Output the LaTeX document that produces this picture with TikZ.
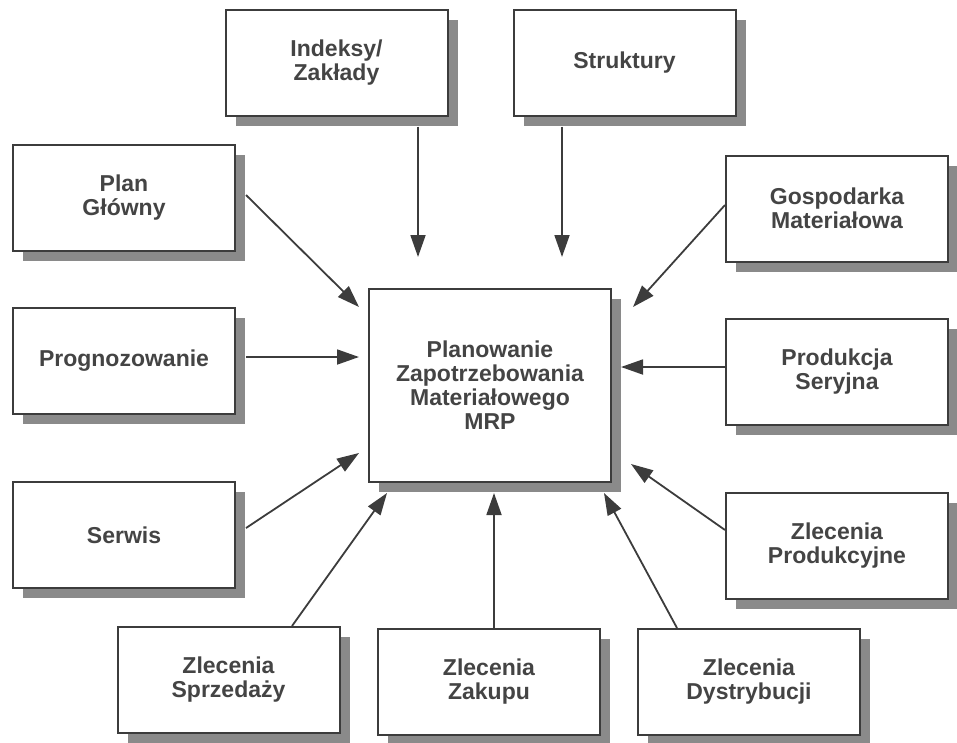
\documentclass[tikz,border=0pt]{standalone}
\usepackage{fontspec}
\setmainfont{Liberation Sans}
\usetikzlibrary{calc,arrows.meta,shadows}
\definecolor{ink}{HTML}{3C3C3C}
\definecolor{txt}{HTML}{444444}
\definecolor{shade}{HTML}{8A8A8A}
\begin{document}
\begin{tikzpicture}[x=1pt,y=-1pt,
  box/.style={draw=ink,line width=2pt,fill=white,minimum width=222pt,minimum height=106pt,
    align=center,text=txt,font=\fontsize{23}{24}\selectfont\bfseries,
    drop shadow={shadow xshift=10pt,shadow yshift=-10pt,fill=shade,opacity=1}},
  arr/.style={draw=ink,line width=1.8pt,-{Triangle[length=22pt,width=15pt]}}]
\useasboundingbox (0,0) rectangle (957,742);
\node[box] (idx) at (336.5,62.5) {Indeksy/\\Zakłady};
\node[box] (str) at (624.5,62.5) {Struktury};
\node[box] (plan) at (124,197.5) {Plan\\Główny};
\node[box] (gosp) at (837,208.5) {Gospodarka\\Materiałowa};
\node[box] (prog) at (124,360.5) {Prognozowanie};
\node[box] (prod) at (837,372) {Produkcja\\Seryjna};
\node[box] (serw) at (124,535) {Serwis};
\node[box] (zprod) at (837,545.5) {Zlecenia\\Produkcyjne};
\node[box] (zsprz) at (228.5,680) {Zlecenia\\Sprzedaży};
\node[box] (zzak) at (489,681.5) {Zlecenia\\Zakupu};
\node[box] (zdys) at (749,682) {Zlecenia\\Dystrybucji};
\node[box,minimum width=242pt,minimum height=193pt] (mrp) at (490,385.5)
  {Planowanie\\Zapotrzebowania\\Materiałowego\\MRP};
\draw[arr] ($(idx.south)+(81.5,10)$) -- ($(mrp.north)+(-72,-31)$);
\draw[arr] ($(str.south)+(-62.5,10)$) -- ($(mrp.north)+(72,-31)$);
\draw[arr] ($(plan.east)+(10,-2.5)$) -- ($(mrp.north west)+(-9,19)$);
\draw[arr] ($(prog.east)+(10,-3.5)$) -- ($(mrp.west)+(-9,-28.5)$);
\draw[arr] ($(serw.east)+(10,-7)$) -- ($(mrp.south west)+(-9,-30)$);
\draw[arr] ($(gosp.west)+(0,-3.5)$) -- ($(mrp.north east)+(21,19)$);
\draw[arr] ($(prod.west)+(0,-5)$) -- ($(mrp.east)+(9,-18.5)$);
\draw[arr] ($(zprod.west)+(0,-15.5)$) -- ($(mrp.south east)+(19,-19)$);
\draw[arr] ($(zsprz.north)+(63.5,0)$) -- ($(mrp.south west)+(19,10)$);
\draw[arr] ($(zzak.north)+(5,0)$) -- ($(mrp.south)+(4,10)$);
\draw[arr] ($(zdys.north)+(-72,0)$) -- ($(mrp.south east)+(-8,10)$);
\end{tikzpicture}
\end{document}
